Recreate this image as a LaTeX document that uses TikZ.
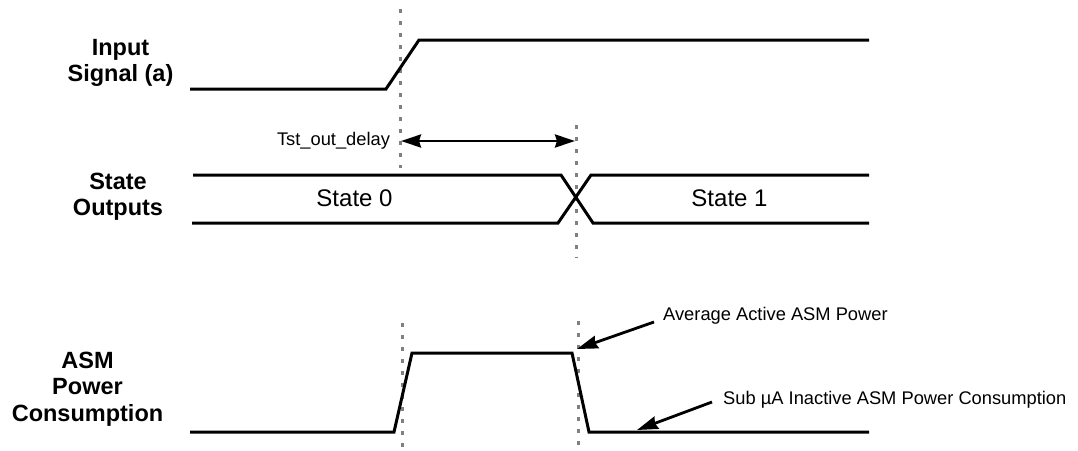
\documentclass[tikz,border=0pt]{standalone}
\usepackage{fontspec}
\setmainfont{Liberation Sans}
\usetikzlibrary{arrows.meta}
\definecolor{guidegray}{RGB}{128, 128, 128}

\begin{document}
\begin{tikzpicture}[x=1pt, y=-1pt,
        sig/.style={line width=3pt},
        guide/.style={draw=guidegray, line width=3pt, dash pattern=on 4pt off 8pt},
        darr/.style={{Stealth[length=20pt, width=13pt, inset=2pt]}-{Stealth[length=20pt, width=13pt, inset=2pt]}, line width=2.8pt},
        arr/.style={-{Stealth[length=21pt, width=13pt, inset=2pt]}, line width=2.8pt},
        rowlbl/.style={align=center, inner sep=0pt, font=\fontsize{23.5}{26.5}\selectfont\bfseries},
        statelbl/.style={anchor=base, inner sep=0pt, font=\fontsize{24}{27}\selectfont},
        note/.style={anchor=base west, inner sep=0pt, font=\fontsize{18.3}{21}\selectfont}
    ]
        \useasboundingbox (0,0) rectangle (1078,450);

        % row labels
        \node[rowlbl] (lblin) at (120.5,63) {Input\\Signal (a)};
        \node[rowlbl] (lblstate) at (118,196.5) {State\\Outputs};
        \node[rowlbl] (lblasm) at (87.5,389) {ASM\\Power\\Consumption};

        % guide lines
        \draw[guide] (400,9) -- (400,168);
        \draw[guide] (576,125) -- (576,258);
        \draw[guide] (402,323) -- (402,450);
        \draw[guide] (578,321) -- (578,450);

        % input signal
        \draw[sig] (190,89) -- (386,89) -- (419,40) -- (869,40);

        % state outputs
        \draw[sig] (193,175) -- (561,175) -- (593,223) -- (869,223);
        \draw[sig] (192,223) -- (558,223) -- (591,175) -- (869,175);
        \node[statelbl] (st0) at (354.5,206) {State 0};
        \node[statelbl] (st1) at (729.5,206) {State 1};

        % delay
        \coordinate (dl) at (401,141);
        \coordinate (dr) at (575,141);
        \node[note, anchor=base] (delay) at (333.5,145) {Tst\_out\_delay};
        \draw[darr] (dl) -- (dr);

        % power
        \draw[sig] (190,432) -- (394,432) -- (412,353) -- (572,353) -- (589,432) -- (869,432);
        \node[note] (avg) at (663,320) {Average Active ASM Power};
        \node[note] (sub) at (723,404) {Sub µA Inactive ASM Power Consumption};
        \coordinate (avgtip) at (577,349);
        \coordinate (subtip) at (637,430);
        \draw[arr] ([xshift=-9pt, yshift=-2pt]avg.base west) -- (avgtip);
        \draw[arr] ([xshift=-11pt, yshift=2pt]sub.base west) -- (subtip);
    \end{tikzpicture}
\end{document}
